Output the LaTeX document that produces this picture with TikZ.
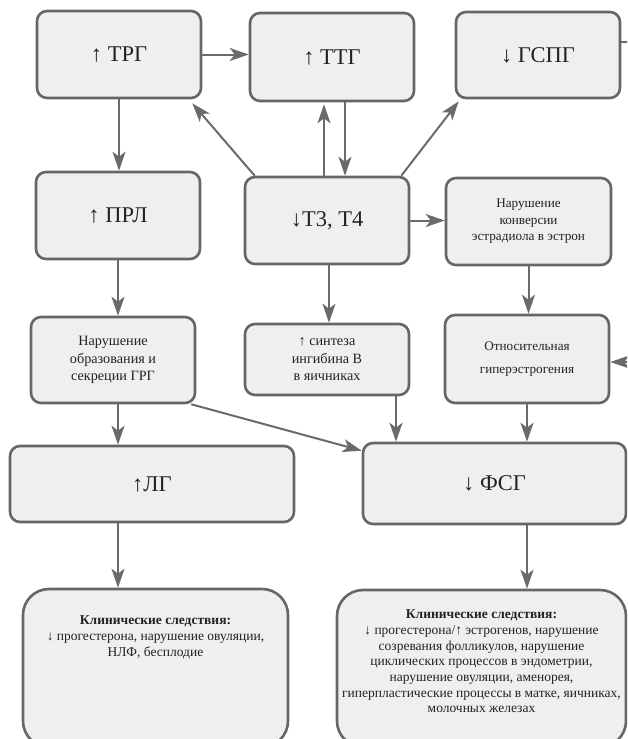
\documentclass[tikz,border=0pt]{standalone}
\usepackage{fontspec}
\setmainfont{Liberation Serif}
\usetikzlibrary{arrows.meta}
\definecolor{boxfill}{HTML}{EFEFEF}
\definecolor{boxline}{HTML}{666666}
\definecolor{arrline}{HTML}{6A6A6A}
\definecolor{txt}{HTML}{222222}

\begin{document}
\begin{tikzpicture}[x=1pt,y=-1pt,
  box/.style={draw=boxline,fill=boxfill,line width=2.6pt,rounded corners=10pt,inner sep=0pt,text=txt,align=center},
  big/.style={box,font=\fontsize{22.5}{26}\selectfont},
  mid/.style={box,font=\fontsize{14.2}{17.5}\selectfont},
  small/.style={box,font=\fontsize{13.2}{16.5}\selectfont},
  clin/.style={draw=boxline,fill=boxfill,line width=2.6pt,rounded corners=26pt},
  clintext/.style={inner sep=0pt,text=txt,align=center,font=\fontsize{13.5}{15.7}\selectfont},
  arr/.style={draw=arrline,line width=2pt,-{Stealth[length=19pt,width=13pt,inset=5pt]}},
  every edge/.style={arr}]

\useasboundingbox (0,0) rectangle (627,739);
\clip (0,0) rectangle (627,739);

\node[big,minimum width=164pt,minimum height=87pt](trg) at (119,54.5){↑ ТРГ};
\node[big,minimum width=164pt,minimum height=88pt](ttg) at (332,57){↑ ТТГ};
\node[big,minimum width=164pt,minimum height=86pt](gspg) at (538,55){↓ ГСПГ};
\node[big,minimum width=164pt,minimum height=87pt](prl) at (118,215.5){↑ ПРЛ};
\node[big,minimum width=164pt,minimum height=87pt](t34) at (327,220.5){↓Т3, Т4};
\node[small,minimum width=165pt,minimum height=87pt](konv) at (528.5,221.5){Нарушение\\конверсии\\эстрадиола в эстрон};
\node[mid,minimum width=164pt,minimum height=86pt](grg) at (113,360){Нарушение\\образования и\\секреции ГРГ};
\node[mid,minimum width=164pt,minimum height=71pt](ingib) at (327,359.5){↑ синтеза\\ингибина В\\в яичниках};
\node[small,font=\fontsize{13.2}{23}\selectfont,minimum width=164pt,minimum height=88pt](giper) at (527,359){Относительная\\гиперэстрогения};
\node[big,minimum width=284pt,minimum height=76pt](lg) at (152,484){↑ЛГ};
\node[big,minimum width=263pt,minimum height=81pt](fsg) at (494.5,483.5){↓ ФСГ};

\node[clin,minimum width=265pt,minimum height=158pt](clinL) at (155.5,668){};
\node[clin,minimum width=289pt,minimum height=157pt](clinR) at (481.5,668.5){};
\node[clintext,anchor=north](clinLtext) at ([yshift=-28pt]clinL.north){\textbf{Клинические следствия:}\\↓ прогестерона, нарушение овуляции,\\НЛФ, бесплодие};
\node[clintext,anchor=north](clinRtext) at ([yshift=-21pt]clinR.north){\textbf{Клинические следствия:}\\↓ прогестерона/↑ эстрогенов, нарушение\\созревания фолликулов, нарушение\\циклических процессов в эндометрии,\\нарушение овуляции, аменорея,\\гиперпластические процессы в матке, яичниках,\\молочных железах};

\path(trg.east)edge(ttg.west |- trg.east)
	(trg.south)edge(trg.south |- prl.north)
	([xshift=11pt]t34.north west)edge([xshift=-10pt,yshift=-4pt]trg.south east)
	([xshift=-3pt]t34.north)edge([xshift=-3pt,yshift=-2pt]t34.north |- ttg.south)
	([xshift=13pt]ttg.south)edge([xshift=13pt]ttg.south |- t34.north)
	([xshift=-9pt]t34.north east)edge([xshift=4pt,yshift=-2pt]gspg.south west)
	(t34.east)edge(konv.west |- t34.east)
	(prl.south)edge(prl.south |- grg.north)
	([xshift=2pt]t34.south)edge([xshift=2pt]t34.south |- ingib.north)
	(konv.south)edge(konv.south |- giper.north)
	(prl.south |- grg.south)edge(prl.south |- lg.north)
	([xshift=-5pt]grg.south east)edge([yshift=-9pt]fsg.north west)
	([xshift=69pt]ingib.south)edge([xshift=69pt]ingib.south |- fsg.north)
	(giper.south)edge(giper.south |- fsg.north)
	(prl.south |- lg.south)edge(prl.south |- clinL.north)
	(giper.south |- fsg.south)edge(giper.south |- clinR.north);

\draw[arr]([yshift=13pt]gspg.east) -- ++(40,0) |- ([yshift=-3pt]giper.east);

\end{tikzpicture}
\end{document}
